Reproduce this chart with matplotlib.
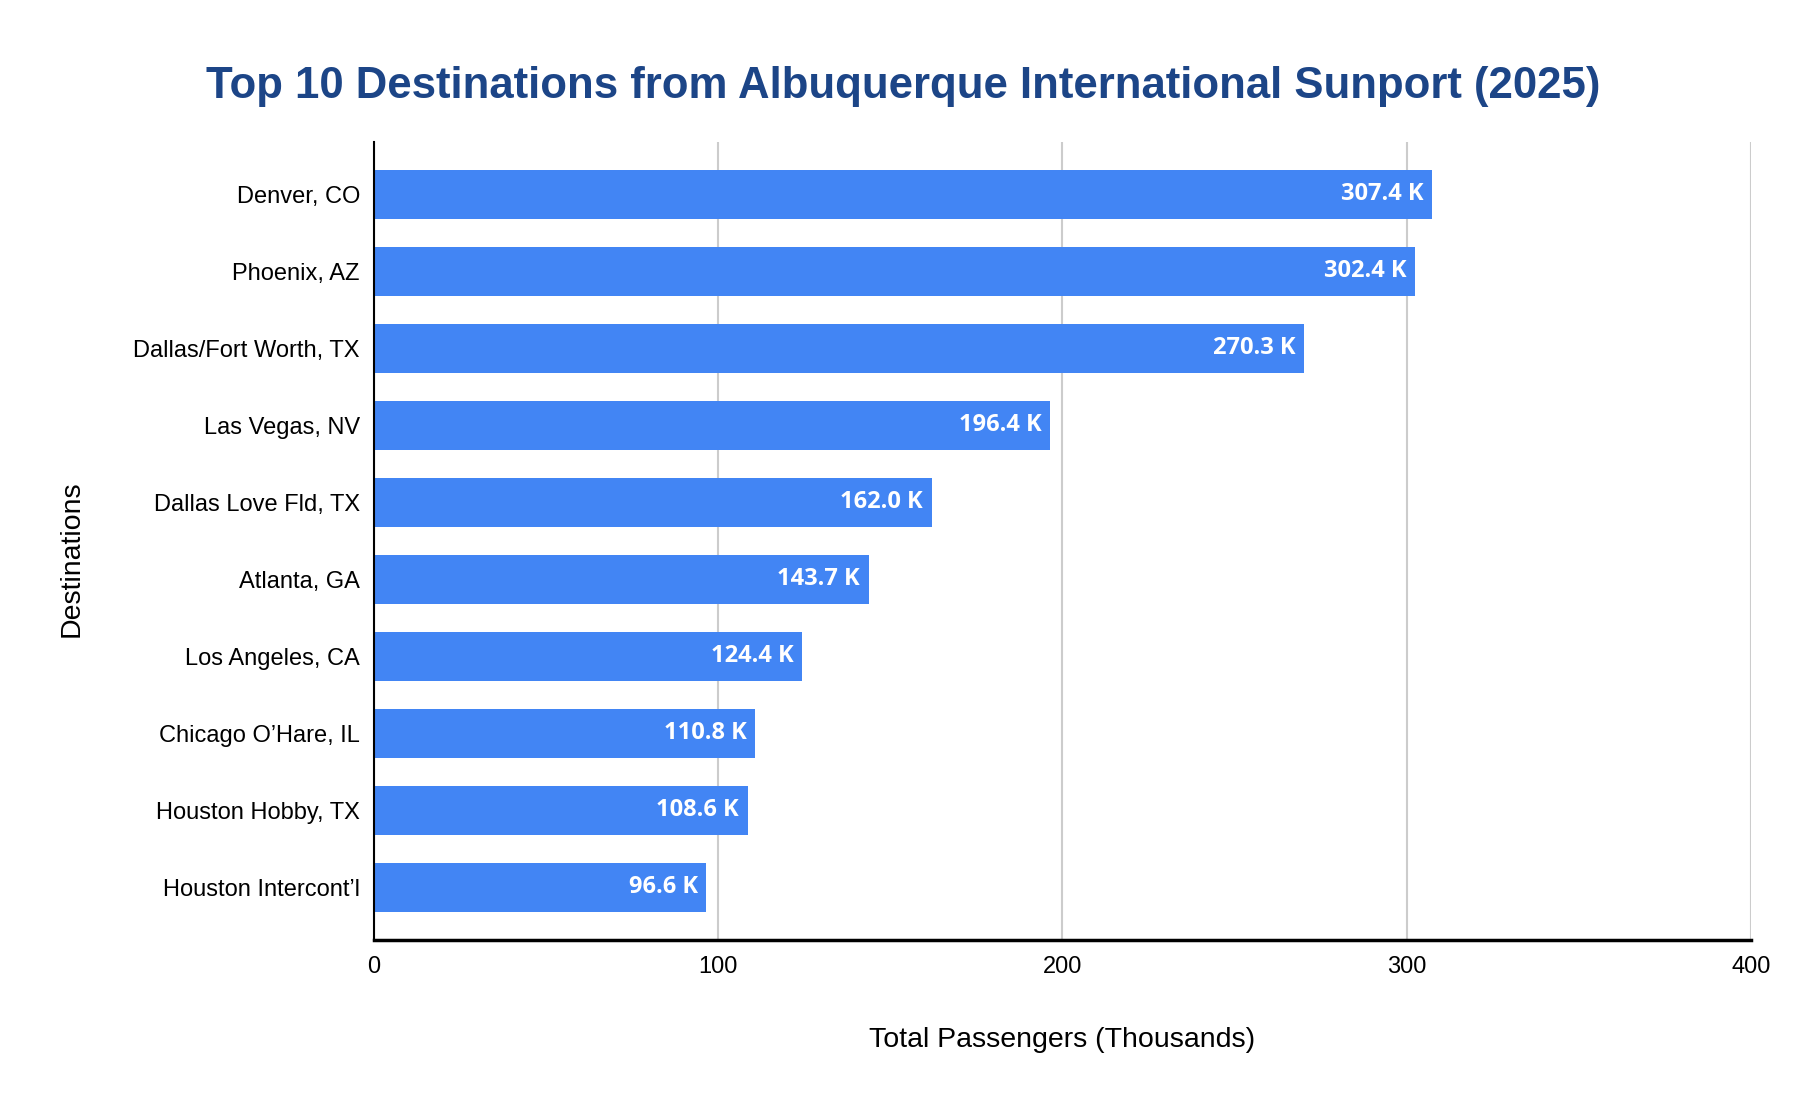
import matplotlib
matplotlib.use("Agg")
from matplotlib import pyplot as plt

# data
destinations = [
    "Denver, CO",
    "Phoenix, AZ",
    "Dallas/Fort Worth, TX",
    "Las Vegas, NV",
    "Dallas Love Fld, TX",
    "Atlanta, GA",
    "Los Angeles, CA",
    "Chicago O\u2019Hare, IL",
    "Houston Hobby, TX",
    "Houston Intercont\u2019l",
]
passengers = [307.4, 302.4, 270.3, 196.4, 162.0, 143.7, 124.4, 110.8, 108.6, 96.6]
x_ticks = [0, 100, 200, 300, 400]

plt.rcParams['font.family'] = ['Liberation Sans', 'DejaVu Sans']

fig = plt.figure(figsize=(18.06, 11.08), dpi=100)
ax = fig.add_axes([0.207, 0.152, 0.7625, 0.72])

y = list(range(len(destinations)))
bars = ax.barh(y, passengers, height=0.64, color="#4285f4", zorder=3)

# value labels inside bar ends
for bar, v in zip(bars, passengers):
    ax.text(bar.get_width() - 2.5, bar.get_y() + bar.get_height() / 2,
            f"{v:.1f} K", ha="right", va="center", color="white",
            fontsize=17, fontweight="bold", family=["Open Sans", "DejaVu Sans"],
            zorder=4)

ax.set_yticks(y)
ax.set_yticklabels(destinations, fontsize=17)
ax.set_ylim(9.68, -0.68)
ax.set_xlim(0, 400)
ax.set_xticks(x_ticks)
ax.set_xticklabels([str(t) for t in x_ticks], fontsize=17)
ax.tick_params(length=0, pad=10)
ax.tick_params(axis="x", pad=12)

ax.grid(axis="x", color="#cccccc", linewidth=1.5, zorder=0)
for s in ["top", "right"]:
    ax.spines[s].set_visible(False)
ax.spines["left"].set_linewidth(1.5)
ax.spines["bottom"].set_linewidth(2.5)
ax.spines["left"].set_zorder(5)
ax.spines["bottom"].set_zorder(5)

ax.set_xlabel("Total Passengers (Thousands)", fontsize=20.5, labelpad=35)
ax.set_ylabel("Destinations", fontsize=20.5)
ax.yaxis.set_label_coords(-0.21, 0.478)

fig.suptitle("Top 10 Destinations from Albuquerque International Sunport (2025)",
             fontsize=31.5, fontweight="bold", color="#1c4587", x=0.5, y=0.94)

fig.savefig("out.png", dpi=100)
